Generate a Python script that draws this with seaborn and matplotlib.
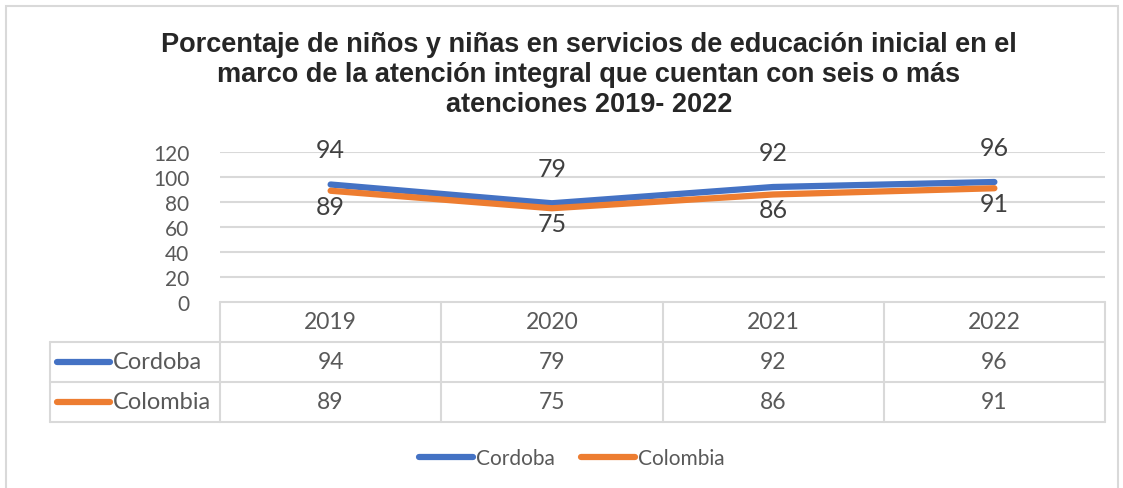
import pandas as pd
import numpy as np
import seaborn as sns
import matplotlib.pyplot as plt
from matplotlib.lines import Line2D
from matplotlib.patches import Rectangle

# --- data ---
years = ['2019', '2020', '2021', '2022']
cordoba = [94, 79, 92, 96]
colombia = [89, 75, 86, 91]
series_names = ['Cordoba', 'Colombia']
y_ticks = [0, 20, 40, 60, 80, 100, 120]
title = ('Porcentaje de niños y niñas en servicios de educación inicial en el\n'
         'marco de la atención integral que cuentan con seis o más\n'
         'atenciones 2019- 2022')

df = pd.DataFrame({
    'Año': years * 2,
    'Valor': cordoba + colombia,
    'Serie': [series_names[0]] * len(years) + [series_names[1]] * len(years),
})

BLUE = '#4472C4'
ORANGE = '#ED7D31'
GRID = '#d9d9d9'
TXT = '#595959'
LBL = '#404040'
FONT = ['Lato', 'DejaVu Sans']

sns.set_style('white')
plt.rcParams['font.family'] = FONT

W, H = 1123, 489
fig = plt.figure(figsize=(W / 100, H / 100), dpi=100)

# outer frame
fig.add_artist(Rectangle((6 / W, -0.05), 1112 / W, 1.05 - 7 / H, transform=fig.transFigure,
                         fill=False, edgecolor=GRID, linewidth=1.5))

# plot area (pixels 220..1105, 153..303)
ax = fig.add_axes([220 / W, (H - 303) / H, 885 / W, 150 / H])
sns.lineplot(data=df, x='Año', y='Valor', hue='Serie', palette=[BLUE, ORANGE],
             linewidth=4.5, ax=ax, legend=False, solid_capstyle='round')
ax.set_xlim(-0.5, len(years) - 0.5)
ax.set_ylim(0, 120)
ax.set_yticks(y_ticks)
ax.set_yticklabels([str(t) for t in y_ticks], fontsize=15, color=TXT)
ax.set_xticks([])
ax.set_xlabel('')
ax.set_ylabel('')
ax.tick_params(axis='y', length=0, pad=22)
for s in ax.spines.values():
    s.set_visible(False)
for t in y_ticks[1:]:
    ax.axhline(t, color=GRID, linewidth=1.5, zorder=0)

# data labels
for i, (a, b) in enumerate(zip(cordoba, colombia)):
    ax.annotate(str(a), (i, a), xytext=(0, 25), textcoords='offset points',
                ha='center', va='center', fontsize=18, color=LBL)
    ax.annotate(str(b), (i, b), xytext=(0, -11), textcoords='offset points',
                ha='center', va='center', fontsize=18, color=LBL)

# data table under the plot (pixels 50..1105, 303..423)
left = -0.5 - 170 / 221.25
tab = fig.add_axes([50 / W, (H - 423) / H, 1055 / W, 120 / H])
tab.set_xlim(left, len(years) - 0.5)
tab.set_ylim(3, 0)
tab.axis('off')
lw = 1.5
tab.plot([-0.5, len(years) - 0.5], [0, 0], color=GRID, lw=lw, clip_on=False)
for r in [1, 2, 3]:
    tab.plot([left, len(years) - 0.5], [r, r], color=GRID, lw=lw, clip_on=False)
for c in np.arange(-0.5, len(years), 1.0):
    tab.plot([c, c], [0, 3], color=GRID, lw=lw, clip_on=False)
tab.plot([left, left], [1, 3], color=GRID, lw=lw, clip_on=False)

for i, y in enumerate(years):
    tab.text(i, 0.5, y, ha='center', va='center', fontsize=16.5, color=TXT)
for r, (vals, name, col) in enumerate(zip([cordoba, colombia], series_names, [BLUE, ORANGE]), start=1):
    for i, v in enumerate(vals):
        tab.text(i, r + 0.5, str(v), ha='center', va='center', fontsize=16.5, color=TXT)
    x0 = left + 7 / 221.25
    x1 = left + 60 / 221.25
    tab.plot([x0, x1], [r + 0.5, r + 0.5], color=col, lw=4.5, solid_capstyle='round', clip_on=False)
    tab.text(left + 63 / 221.25, r + 0.5, name, ha='left', va='center', fontsize=17, color=TXT)

# bottom legend
handles = [Line2D([0], [0], color=c, lw=4.5, solid_capstyle='round') for c in [BLUE, ORANGE]]
fig.legend(handles, series_names, loc='center', bbox_to_anchor=(572 / W, (H - 459) / H),
           ncol=2, frameon=False, fontsize=15, handlelength=2.6, handletextpad=0.15,
           columnspacing=1.25, labelcolor=TXT)

fig.text(589 / W, (H - 75) / H, title, ha='center', va='center', fontsize=19.5,
         fontweight='bold', family=['Liberation Sans', 'DejaVu Sans'], linespacing=1.2)

plt.savefig('out.png', dpi=100)
